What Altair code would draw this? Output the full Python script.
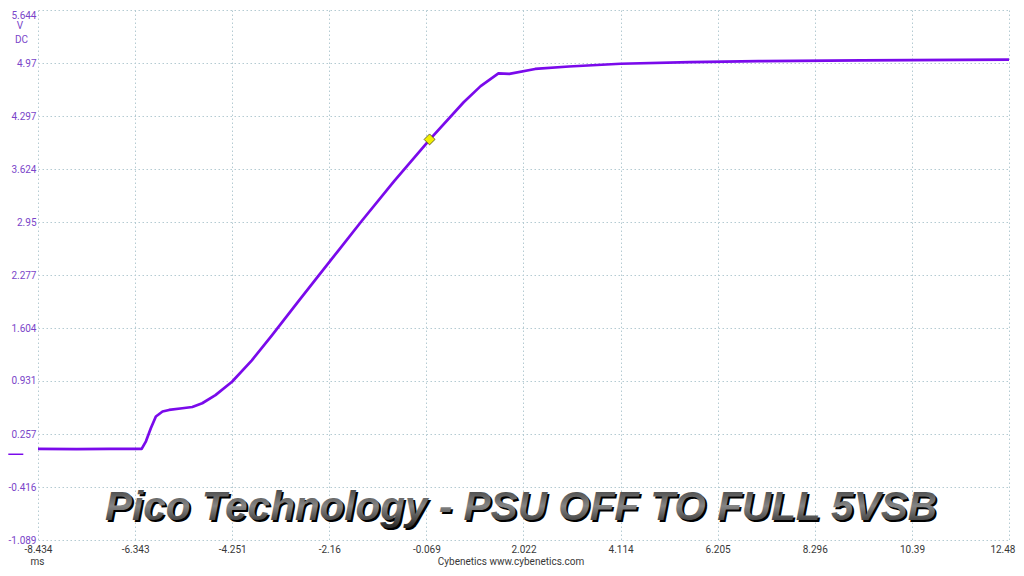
import altair as alt
import pandas as pd

# ---- data ----
time_ms = [-8.434, -7.6, -6.9, -6.201, -6.109, -6.002, -5.895, -5.752, -5.611,
           -5.325, -5.111, -4.897, -4.612, -4.255, -3.828, -3.400, -2.831,
           -2.403, -1.939, -1.475, -0.763, 0.007, 0.734, 1.1, 1.483, 1.718, 2.274,
           3.001, 4.113, 5.610, 7.086, 9.310, 12.48]
volts = [0.068, 0.066, 0.068, 0.068, 0.165, 0.333, 0.480, 0.543, 0.563,
         0.585, 0.601, 0.648, 0.752, 0.921, 1.193, 1.508, 1.939,
         2.261, 2.607, 2.954, 3.470, 4.000, 4.472, 4.677, 4.838, 4.832, 4.895,
         4.926, 4.961, 4.983, 4.995, 5.004, 5.013]

trigger_t = [0.0]
trigger_v = [4.0]
zero_level = [0.0]

x_ticks = [-8.434, -6.343, -4.251, -2.16, -0.069, 2.022, 4.114, 6.205, 8.296, 10.39, 12.48]
y_ticks = [5.644, 4.97, 4.297, 3.624, 2.95, 2.277, 1.604, 0.931, 0.257, -0.416, -1.089]

title_text = "Pico Technology - PSU OFF TO FULL 5VSB"
x_unit = "ms"
y_unit = "V"
y_coupling = "DC"
credit_text = "Cybenetics   www.cybenetics.com"

# ---- styles ----
TRACE = "#7a0aeb"
YLAB = "#7a45c9"
XLAB = "#383838"
GRID = "#b4cbd2"
LABFONT = "Roboto"
LABSIZE = 10

W, H = 971, 530

trace_df = pd.DataFrame({"t": time_ms, "v": volts})
trig_df = pd.DataFrame({"t": trigger_t, "v": trigger_v})
zero_df = pd.DataFrame({"v": zero_level})

xscale = alt.Scale(domain=[x_ticks[0], x_ticks[-1]], nice=False, zero=False)
yscale = alt.Scale(domain=[y_ticks[-1], y_ticks[0]], nice=False, zero=False)

xaxis = alt.Axis(
    values=x_ticks, title=None, labelExpr="'' + datum.value",
    grid=True, gridDash=[1.5, 2.5], gridColor=GRID, gridWidth=1,
    ticks=False, tickSize=0, domain=False, labelPadding=4.5,
    labelFont=LABFONT, labelFontSize=LABSIZE, labelColor=XLAB,
    labelFlush=False, labelOverlap=False, labelBound=False,
    labelAlign={"condition": {"test": "datum.value > 12", "value": "right"}, "value": "center"},
    labelOffset={"condition": {"test": "datum.value > 12", "value": 6}, "value": 0},
)
yaxis = alt.Axis(
    values=y_ticks, title=None, labelExpr="'' + datum.value",
    grid=True, gridDash=[1.5, 2.5], gridColor=GRID, gridWidth=1,
    ticks=False, tickSize=0, domain=False, labelPadding=2,
    labelFont=LABFONT, labelFontSize=LABSIZE, labelColor=YLAB,
    labelFlush=False, labelOverlap=False, labelBound=False,
    labelBaseline={"condition": {"test": "datum.value > 5.6", "value": "top"}, "value": "middle"},
)

trace = alt.Chart(trace_df).mark_line(color=TRACE, strokeWidth=2.7, strokeJoin="round").encode(
    x=alt.X("t:Q", scale=xscale, axis=xaxis),
    y=alt.Y("v:Q", scale=yscale, axis=yaxis),
)

trigger = alt.Chart(trig_df).mark_point(
    shape="diamond", size=120, filled=True, fill="#f2ee00", stroke="#4a4a20",
    strokeWidth=0.8, opacity=1
).encode(x="t:Q", y="v:Q")

zero_mark = alt.Chart(zero_df).mark_rule(color=TRACE, strokeWidth=1.5).encode(
    y="v:Q", x=alt.value(-29.7), x2=alt.value(-14.7)
)

def label(txt, x, y, color, align="center", size=LABSIZE, baseline="middle"):
    return alt.Chart(pd.DataFrame({"s": [txt]})).mark_text(
        font=LABFONT, fontSize=size, color=color, align=align, baseline=baseline
    ).encode(text="s:N", x=alt.value(x), y=alt.value(y))

v_lab = label(y_unit, -18, 16, YLAB)
dc_lab = label(y_coupling, -10, 30, YLAB, align="right")
ms_lab = label(x_unit, -0.5, 551.5, XLAB)
credit = label(credit_text, 473, 551.5, XLAB)

tdf = pd.DataFrame({"s": [title_text]})
title_shadow = alt.Chart(tdf).mark_text(
    font="Liberation Sans", fontSize=40.5, fontWeight="bold", fontStyle="italic",
    color="#000000", align="center", baseline="alphabetic", dx=1.8, dy=1.8
).encode(text="s:N", x=alt.value(483), y=alt.value(510))

grad = alt.LinearGradient(
    gradient="linear",
    stops=[alt.GradientStop(offset=0, color="#333333"),
           alt.GradientStop(offset=0.5, color="#858585"),
           alt.GradientStop(offset=1, color="#202020")],
    x1=0, x2=0, y1=0, y2=1,
)
title_main = alt.Chart(tdf).mark_text(
    font="Liberation Sans", fontSize=40.5, fontWeight="bold", fontStyle="italic",
    color=grad, align="center", baseline="alphabetic"
).encode(text="s:N", x=alt.value(483), y=alt.value(510))

chart = alt.layer(
    trace, trigger, zero_mark, v_lab, dc_lab, ms_lab, credit, title_shadow, title_main
).properties(
    width=W, height=H,
    autosize=alt.AutoSizeParams(type="none"),
    padding={"left": 30, "top": 2, "right": 7, "bottom": 28},
    background="#ffffff",
).configure_view(strokeWidth=0)

chart.save("out.html", embed_options={"renderer": "svg", "actions": False})
